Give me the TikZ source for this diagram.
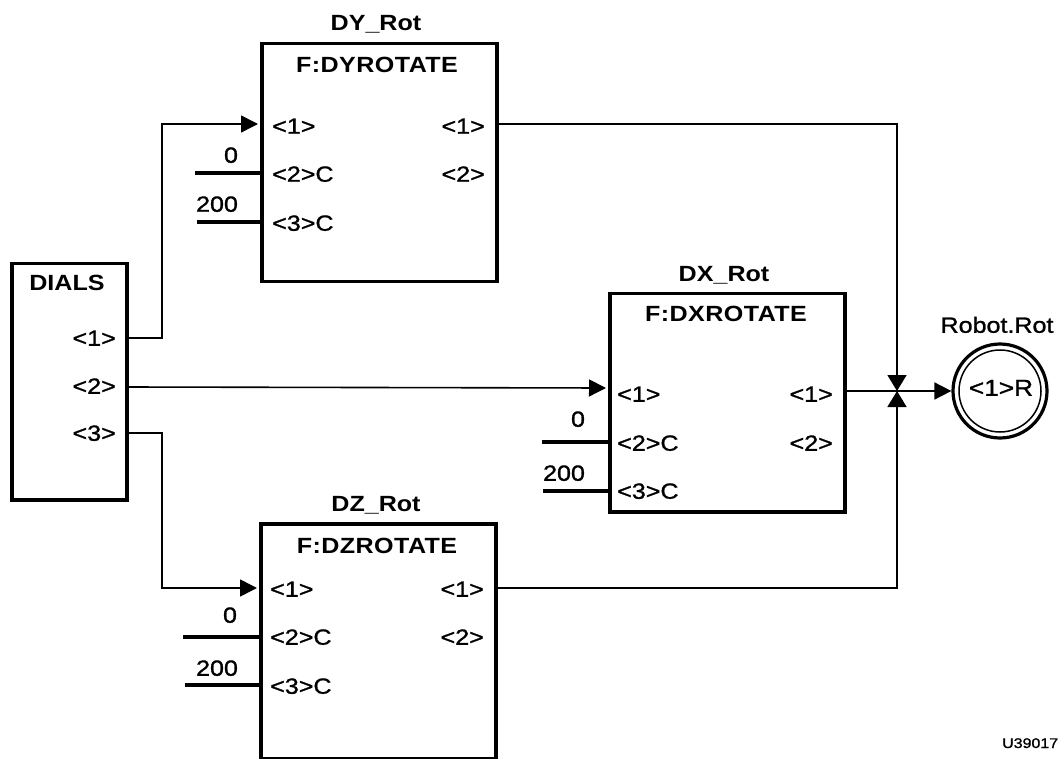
\documentclass[tikz,border=0pt]{standalone}
\usepackage{fontspec}
\setmainfont{Liberation Sans}[FakeStretch=1.14, UprightFeatures={FakeBold=1.2}]
\usetikzlibrary{arrows.meta}
\begin{document}
\begin{tikzpicture}[x=1pt,y=-1pt,
  lbl/.style={inner sep=0pt, text height=15.5pt, text depth=0pt, font=\fontsize{22}{26}\selectfont},
  ttl/.style={lbl, font=\fontsize{22}{26}\selectfont\bfseries},
  fnm/.style={lbl, font=\fontsize{22}{26}\selectfont\bfseries\addfontfeatures{LetterSpace=2}},
  blk/.style={draw, line width=3.5pt, anchor=north west, inner sep=0pt},
  wire/.style={line width=1.6pt},
  arr/.style={wire, -{Triangle[length=17pt,width=17pt]}},
  jarr/.style={wire, -{Triangle[length=16pt,width=19pt]}},
  cst/.style={line width=4pt},
]
\useasboundingbox (0,0) rectangle (1060,759);

% blocks
\node[blk, minimum width=115pt, minimum height=236pt] (dials) at (10,262) {};
\node[blk, minimum width=235pt, minimum height=238pt] (dy) at (260,42) {};
\node[blk, minimum width=235pt, minimum height=218pt] (dx) at (608,292) {};
\node[blk, minimum width=235pt, minimum height=235pt] (dz) at (259,522) {};
\node[draw, circle, line width=3.2pt, minimum size=94pt, inner sep=0pt] (robot) at (1000,391) {};
\draw[line width=1.5pt] (robot.center) circle (41pt);

% DIALS texts
\node[ttl] (dialsT) at (67,283) {DIALS};
\node[lbl, anchor=east] (dialsP1) at (116,338) {<1>};
\node[lbl, anchor=east] (dialsP2) at (116,386) {<2>};
\node[lbl, anchor=east] (dialsP3) at (116,433) {<3>};

% DY texts
\node[ttl] (dyT) at (376,23) {DY\_Rot};
\node[fnm] (dyF) at (377,65) {F:DYROTATE};
\node[lbl, anchor=west] (dyI1l) at (272,126) {<1>};
\node[lbl, anchor=west] (dyI2l) at (272,174) {<2>C};
\node[lbl, anchor=west] (dyI3l) at (272,223) {<3>C};
\node[lbl, anchor=east] (dyO1l) at (485,126) {<1>};
\node[lbl, anchor=east] (dyO2l) at (485,174) {<2>};
\node[lbl] (dyC0) at (231,155) {0};
\node[lbl] (dyC200) at (217,204) {200};

% DX texts
\node[ttl] (dxT) at (724,274) {DX\_Rot};
\node[fnm] (dxF) at (726,314) {F:DXROTATE};
\node[lbl, anchor=west] (dxI1l) at (617,394) {<1>};
\node[lbl, anchor=west] (dxI2l) at (617,443) {<2>C};
\node[lbl, anchor=west] (dxI3l) at (617,491) {<3>C};
\node[lbl, anchor=east] (dxO1l) at (833,394) {<1>};
\node[lbl, anchor=east] (dxO2l) at (833,443) {<2>};
\node[lbl] (dxC0) at (578,419) {0};
\node[lbl] (dxC200) at (564,473) {200};

% DZ texts
\node[ttl] (dzT) at (376,504) {DZ\_Rot};
\node[fnm] (dzF) at (377,546) {F:DZROTATE};
\node[lbl, anchor=west] (dzI1l) at (270,589) {<1>};
\node[lbl, anchor=west] (dzI2l) at (270,637) {<2>C};
\node[lbl, anchor=west] (dzI3l) at (270,686) {<3>C};
\node[lbl, anchor=east] (dzO1l) at (484,589) {<1>};
\node[lbl, anchor=east] (dzO2l) at (484,637) {<2>};
\node[lbl] (dzC0) at (230,615) {0};
\node[lbl] (dzC200) at (217,668) {200};

% Robot
\node[lbl] (robotT) at (997,325) {Robot.Rot};
\node[lbl, font=\fontsize{23}{27}\selectfont] (robotP) at (1001,388) {<1>R};
\node[lbl, anchor=west, text height=10pt, font=\fontsize{14}{16}\selectfont] (code) at (1002,743) {U39017};

% port coordinates
\coordinate (dO1) at (125,338);
\coordinate (dO2) at (125,387);
\coordinate (dO3) at (125,433);
\coordinate (dyI1) at (258,124);
\coordinate (dxI1) at (606,388);
\coordinate (dzI1) at (257,588);
\coordinate (dyO1) at (496,124);
\coordinate (dxO1) at (844,391);
\coordinate (dzO1) at (495,588);
\coordinate (j) at (897,391);

% wires
\draw[arr] (dO1) -- ++(37,0) |- (dyI1);
\draw[arr] (dO2) -- (dxI1);
\draw[arr] (dO3) -- ++(37,0) |- (dzI1);
\draw[jarr] (dyO1) -| (j);
\draw[jarr] (dzO1) -| (j);
\draw[arr] (dxO1) -- (robot.west);

% constants
\coordinate (dyK2) at (195,173);
\coordinate (dyK3) at (197,222);
\coordinate (dxK2) at (542,442);
\coordinate (dxK3) at (543,491);
\coordinate (dzK2) at (183,637);
\coordinate (dzK3) at (185,685);
\draw[cst] (dyK2) -- (dyK2 -| dy.west);
\draw[cst] (dyK3) -- (dyK3 -| dy.west);
\draw[cst] (dxK2) -- (dxK2 -| dx.west);
\draw[cst] (dxK3) -- (dxK3 -| dx.west);
\draw[cst] (dzK2) -- (dzK2 -| dz.west);
\draw[cst] (dzK3) -- (dzK3 -| dz.west);
\end{tikzpicture}
\end{document}
